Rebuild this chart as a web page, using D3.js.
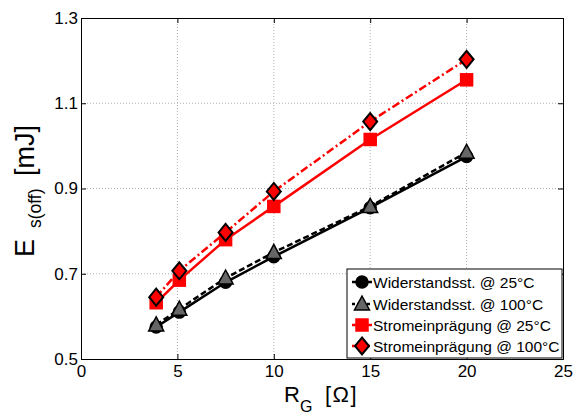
<!DOCTYPE html>
<html><head><meta charset="utf-8">
<script src="https://cdn.jsdelivr.net/npm/d3@7"></script>
<style>body{margin:0;background:#fff;} svg{display:block;font-family:"Liberation Sans",Arial,sans-serif;}</style>
</head><body>
<svg id="c" width="581" height="414"></svg>
<script>
const xValues = [3.9, 5.1, 7.5, 10, 15, 20];
const wid25 = [0.575, 0.610, 0.680, 0.740, 0.855, 0.975];
const wid100 = [0.580, 0.617, 0.690, 0.750, 0.858, 0.985];
const strom25 = [0.632, 0.685, 0.780, 0.858, 1.015, 1.155];
const strom100 = [0.645, 0.707, 0.797, 0.893, 1.057, 1.203];
const seriesNames = ["Widerstandsst. @ 25°C","Widerstandsst. @ 100°C","Stromeinprägung @ 25°C","Stromeinprägung @ 100°C"];
const xTicks = [0,5,10,15,20,25];
const yTicks = [0.5,0.7,0.9,1.1,1.3];

const svg = d3.select("#c");
const L=81,R=563,T=18,B=359;
const x = d3.scaleLinear().domain([0,25]).range([L,R]);
const y = d3.scaleLinear().domain([0.5,1.3]).range([B,T]);

// grid
const g = svg.append("g");
xTicks.slice(1,-1).forEach(v=>g.append("line").attr("x1",x(v)).attr("x2",x(v)).attr("y1",T).attr("y2",B).attr("stroke","#b0b0b0").attr("stroke-width",1).attr("stroke-dasharray","1,2"));
yTicks.slice(1,-1).forEach(v=>g.append("line").attr("x1",L).attr("x2",R).attr("y1",y(v)).attr("y2",y(v)).attr("stroke","#b0b0b0").attr("stroke-width",1).attr("stroke-dasharray","1,2"));

// axes
const xa = svg.append("g").attr("transform",`translate(0,${B})`).call(d3.axisBottom(x).tickValues(xTicks).tickSize(-5).tickPadding(6).tickFormat(d3.format("d")));
const ya = svg.append("g").attr("transform",`translate(${L},0)`).call(d3.axisLeft(y).tickValues(yTicks).tickSize(-5).tickPadding(3).tickFormat(d3.format(".1f")));
svg.append("g").attr("transform",`translate(0,${T})`).call(d3.axisTop(x).tickValues(xTicks).tickSize(-5).tickFormat(""));
svg.append("g").attr("transform",`translate(${R},0)`).call(d3.axisRight(y).tickValues(yTicks).tickSize(-5).tickFormat(""));
svg.selectAll(".domain").attr("stroke","#000");
svg.selectAll(".tick line").attr("stroke","#000");
xa.selectAll("text").attr("font-size",17).attr("fill","#000").attr("font-family","Liberation Sans, Arial, sans-serif");
ya.selectAll("text").attr("font-size",17).attr("fill","#000").attr("font-family","Liberation Sans, Arial, sans-serif");

// lines
const line = d3.line().x((d,i)=>x(xValues[i])).y(d=>y(d));
const sdefs = [
 {data:wid25,color:"#000",dash:null,marker:"circle",fill:"#000",stroke:"#000"},
 {data:wid100,color:"#000",dash:"6,3",marker:"triangle",fill:"#666",stroke:"#000"},
 {data:strom25,color:"#ff0000",dash:null,marker:"square",fill:"#ff0000",stroke:"#ff0000"},
 {data:strom100,color:"#ff0000",dash:"8,3,2,3",marker:"diamond",fill:"#ff0000",stroke:"#000"}
];
function marker(sel,type,cx,cy,fill,stroke){
  if(type==="circle") sel.append("circle").attr("cx",cx).attr("cy",cy).attr("r",6).attr("fill",fill).attr("stroke",stroke).attr("stroke-width",1.5);
  else if(type==="triangle") sel.append("path").attr("d",`M${cx},${cy-8} L${cx+7.5},${cy+6} L${cx-7.5},${cy+6} Z`).attr("fill",fill).attr("stroke",stroke).attr("stroke-width",1.5);
  else if(type==="square") sel.append("rect").attr("x",cx-6).attr("y",cy-6).attr("width",12).attr("height",12).attr("fill",fill).attr("stroke",stroke).attr("stroke-width",1.5);
  else sel.append("path").attr("d",`M${cx},${cy-8.5} L${cx+7},${cy} L${cx},${cy+8.5} L${cx-7},${cy} Z`).attr("fill",fill).attr("stroke",stroke).attr("stroke-width",2);
}
sdefs.forEach(s=>{
  svg.append("path").datum(s.data).attr("d",line).attr("fill","none").attr("stroke",s.color).attr("stroke-width",2.5).attr("stroke-dasharray",s.dash);
});
sdefs.forEach(s=>{
  const mg = svg.append("g");
  s.data.forEach((v,i)=>marker(mg,s.marker,x(xValues[i]),y(v),s.fill,s.stroke));
});

// legend
const lg = svg.append("g");
lg.append("rect").attr("x",347).attr("y",269).attr("width",215).attr("height",89).attr("fill","#fff").attr("stroke","#000").attr("stroke-width",1);
const ly = [282,304,325,346];
sdefs.forEach((s,i)=>{
  lg.append("line").attr("x1",352).attr("x2",372).attr("y1",ly[i]).attr("y2",ly[i]).attr("stroke",s.color).attr("stroke-width",2.5).attr("stroke-dasharray",s.dash?"3,2":null);
  marker(lg,s.marker,362,ly[i],s.fill,s.stroke);
  lg.append("text").attr("x",373).attr("y",ly[i]).attr("dy","0.36em").attr("font-size",15.5).text(seriesNames[i]);
});

// axis titles
const xt = svg.append("text").attr("x",284).attr("y",402).attr("font-size",22);
xt.append("tspan").text("R");
xt.append("tspan").attr("font-size",16).attr("dy",10).text("G");
xt.append("tspan").attr("x",325).attr("dy",-10).attr("letter-spacing",1.5).text("[Ω]");
const yt = svg.append("text").attr("transform","translate(34,257) rotate(-90)").attr("font-size",27);
yt.append("tspan").text("E");
yt.append("tspan").attr("font-size",17.5).attr("x",29).attr("dy",7).text("s(off)");
yt.append("tspan").attr("x",81).attr("dy",-7).text("[mJ]");
</script>
</body></html>
